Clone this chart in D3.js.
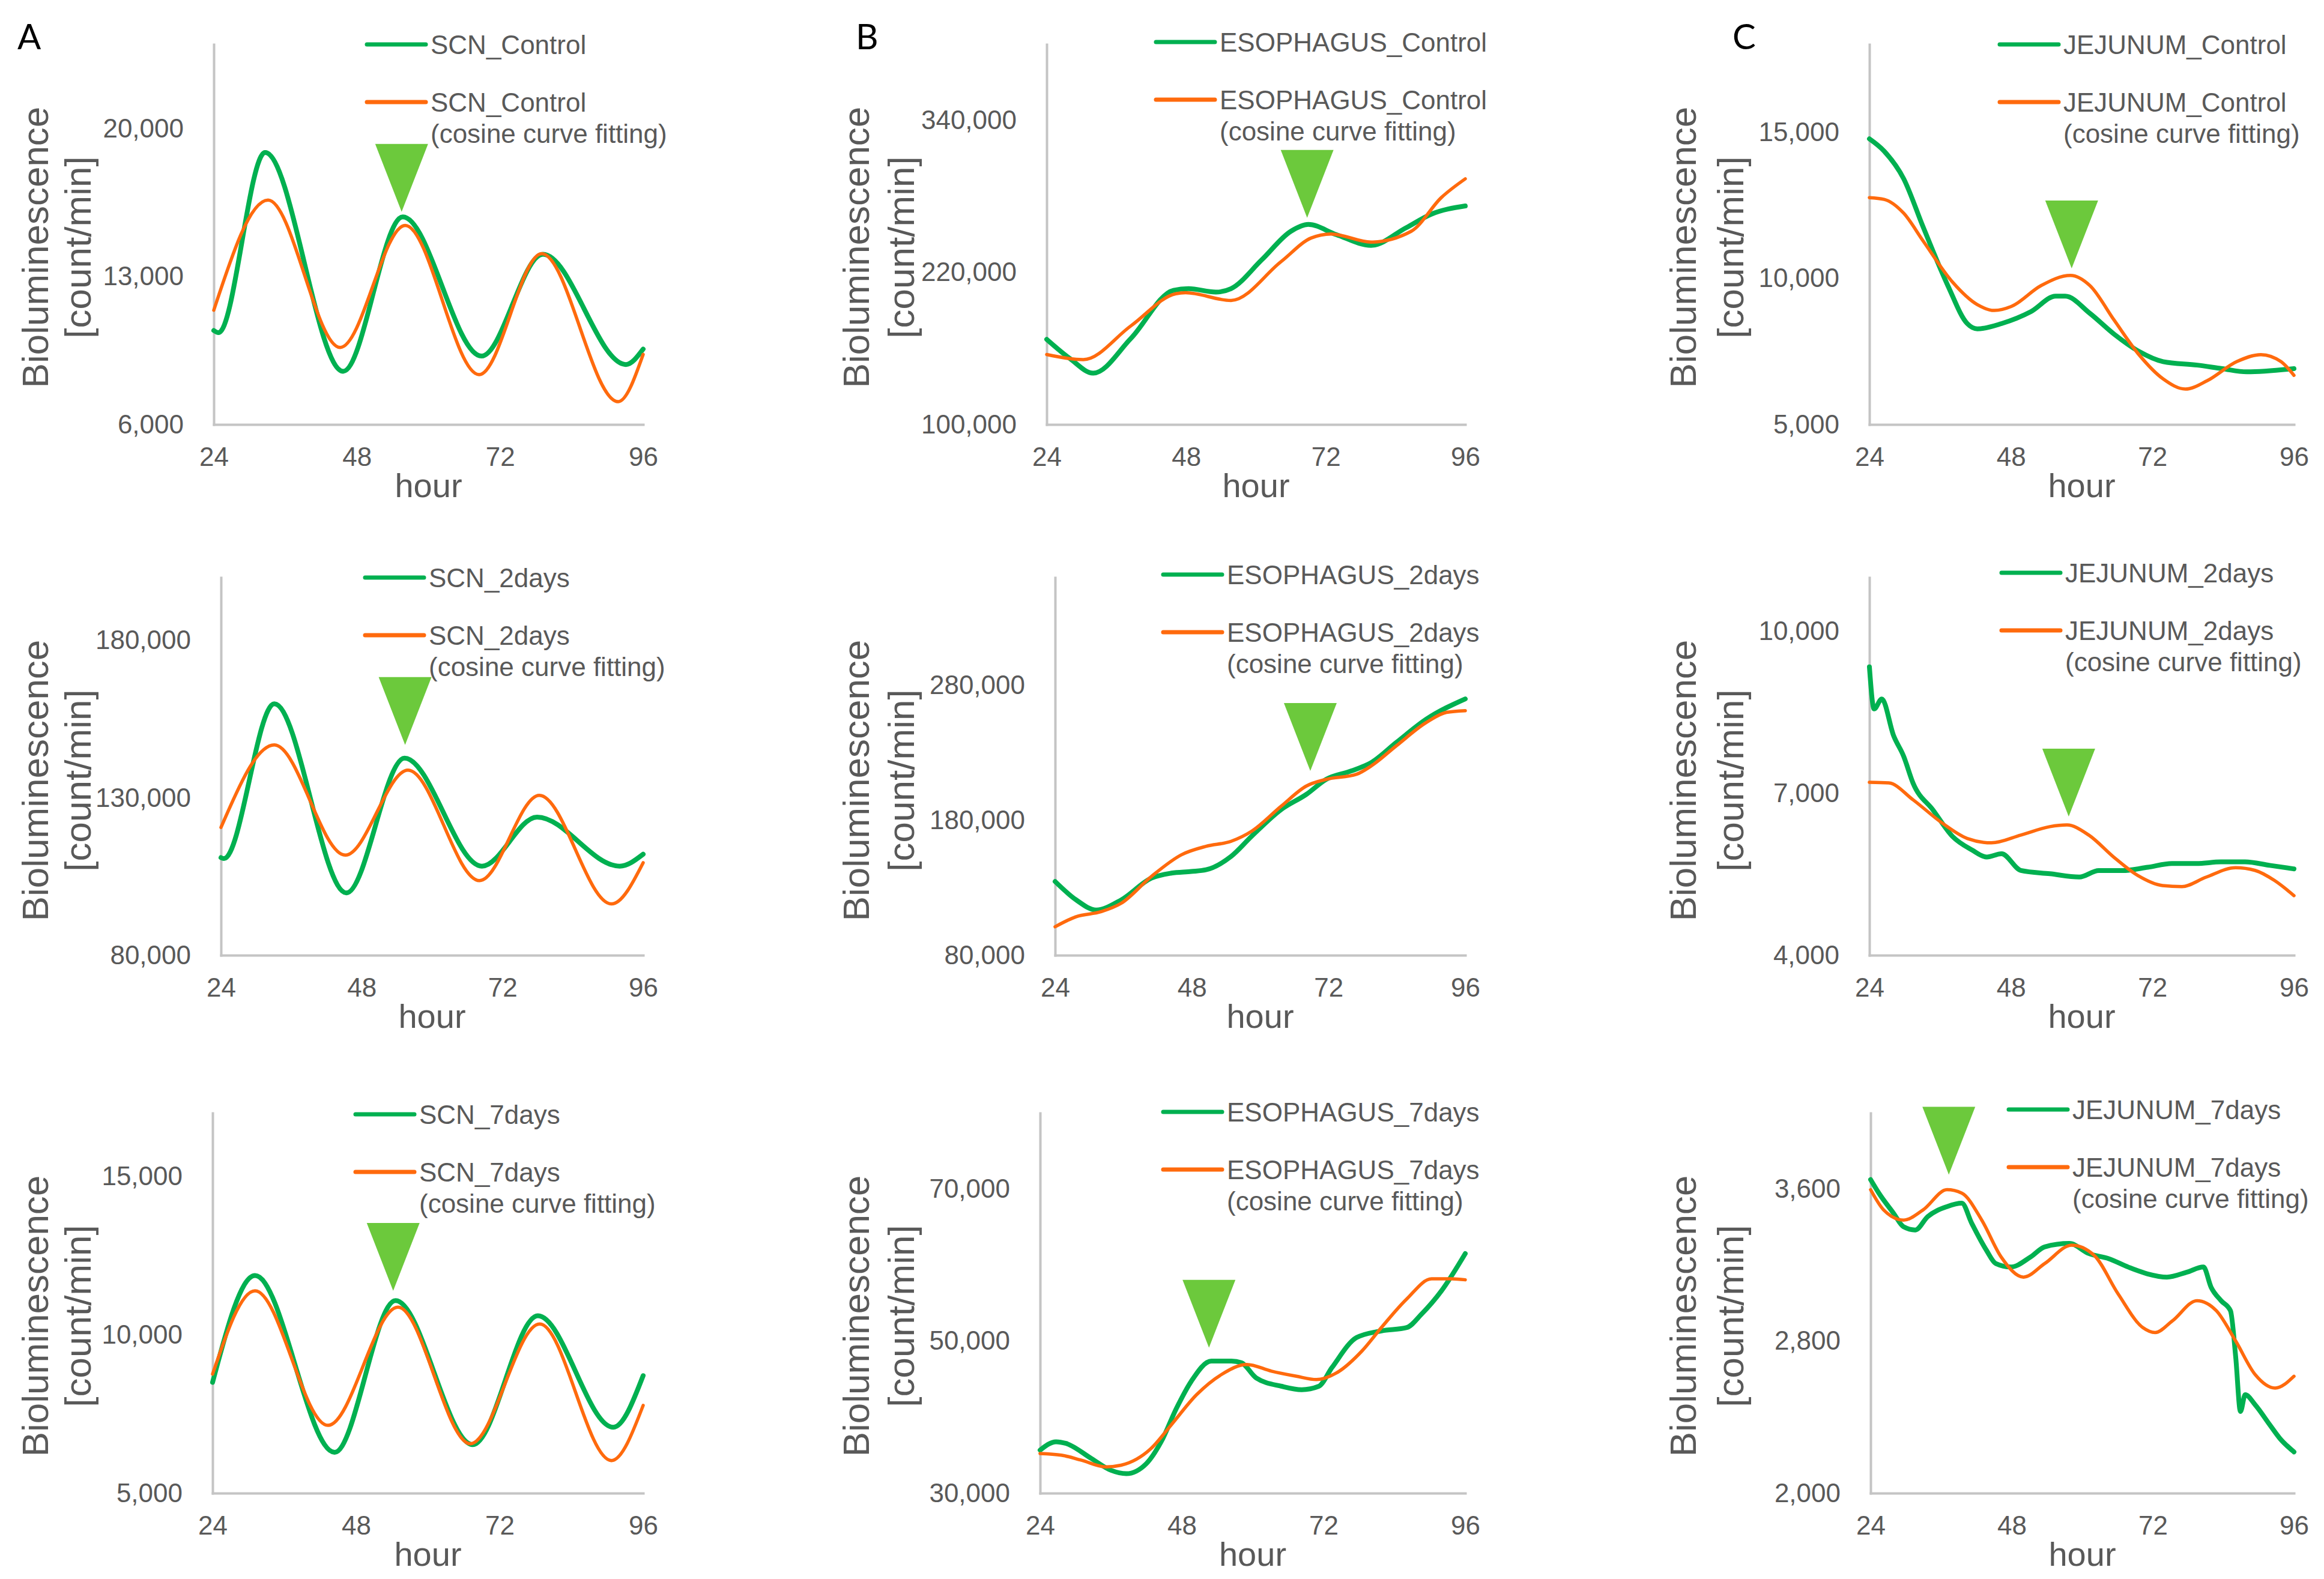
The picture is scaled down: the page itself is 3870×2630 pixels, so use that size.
<!DOCTYPE html>
<html>
<head>
<meta charset="utf-8">
<script src="https://cdn.jsdelivr.net/npm/d3@7"></script>
<style>
  body { margin: 0; background: #fff; }
  text { font-family: "Liberation Sans", Arial, sans-serif; fill: #595959; }
</style>
</head>
<body>
<svg id="fig" width="3870" height="2630"></svg>
<script>

// ---------------- data (hour, count/min) ----------------
var xTicks = [24, 48, 72, 96];

var panelNames = ["SCN_Control", "ESOPHAGUS_Control", "JEJUNUM_Control",
                  "SCN_2days", "ESOPHAGUS_2days", "JEJUNUM_2days",
                  "SCN_7days", "ESOPHAGUS_7days", "JEJUNUM_7days"];

var yDomains = [[6000, 24000], [100000, 400000], [5000, 18000],
                [80000, 200000], [80000, 360000], [4000, 11000],
                [5000, 17000], [30000, 80000], [2000, 4000]];

var yTickValues = [[6000, 13000, 20000], [100000, 220000, 340000], [5000, 10000, 15000],
                   [80000, 130000, 180000], [80000, 180000, 280000], [4000, 7000, 10000],
                   [5000, 10000, 15000], [30000, 50000, 70000], [2000, 2800, 3600]];

// green arrowheads: peak hour and level
var peakHour  = [55.5, 68.8, 58.3, 55.4, 68.8, 57.8, 54.2, 52.6, 37.3];
var peakValue = [16070, 263200, 10340, 146840, 216620, 6570, 11390, 49140, 3676];

var scnControl = [[24,10450],[24.8,10350],[32.6,18880],[45.7,8520],[55.7,15830],[68.9,9240],[79.2,14060],[93.1,8840],[96,9570]];
var scnControlFit = [[24,11410],[33.1,16630],[45.2,9650],[56.1,15430],[68.5,8360],[79.0,14090],[91.8,7080],[96,9320]];

var esoControl = [[24,167200],[28,152000],[32,140500],[38.5,168000],[45.8,205900],[48.4,207200],[53.1,204500],[55.7,207200],[61,230000],[66,252500],[69,257900],[73.8,249900],[79.8,241400],[85.8,255200],[90.1,265900],[96,272500]];
var esoControlFit = [[24,155200],[30.3,151200],[38.5,177900],[46.2,203200],[47.9,204000],[55.7,197900],[64.3,228500],[69.5,247200],[72.9,250400],[79.8,244000],[86.7,252500],[91.9,279200],[96,293900]];

var jejControl = [[24,14770],[26.5,14350],[29.8,13410],[33.1,11760],[37.3,9750],[40.6,8450],[42.3,8270],[46.4,8450],[51.4,8860],[55.6,9390],[57.2,9390],[61.4,8800],[65.5,8090],[69.7,7500],[73.8,7150],[79.6,7030],[83.8,6910],[88,6800],[96,6910]];
var jejControlFit = [[24,12760],[26.5,12700],[29.8,12230],[33.1,11280],[38.1,9870],[42.3,9100],[45.2,8900],[48.1,9040],[53.1,9750],[58.1,10100],[61.4,9750],[65.5,8570],[69.7,7390],[73.8,6560],[77.6,6210],[81.3,6500],[86.3,7150],[90.4,7390],[93.8,7150],[96,6680]];

var scn2d = [[24,111000],[24.5,110700],[33.1,159900],[45.4,99800],[55.3,142600],[68.5,108300],[77.9,123900],[92,108300],[96,112100]];
var scn2dFit = [[24,120600],[33.1,146800],[45.2,111800],[55.9,138800],[68.1,103700],[78.3,130800],[90.6,96300],[96,109400]];

var eso2d = [[24,134650],[27.7,120990],[31.2,113530],[35.6,120990],[40.9,137130],[44.4,140860],[47.9,142100],[50.5,143340],[54.9,153280],[58.5,168180],[63.7,188050],[68.1,199230],[71.6,210410],[76,216620],[79.5,222830],[83.9,237730],[89.2,255120],[96,270030]];
var eso2dFit = [[24,101110],[27.7,108570],[32.1,112290],[35.6,118500],[40.9,138370],[46.2,154520],[50.5,160730],[54.9,164460],[58.5,171910],[63.7,190540],[68.1,205440],[71.6,210410],[76.9,214140],[79.5,220350],[83.9,235250],[89.2,252640],[92.7,260090],[96,261330]];

var jej2d = [[24,9345],[24.8,8565],[26.1,8750],[28.1,8070],[29.8,7690],[31.4,7190],[34.8,6690],[38.1,6200],[41.4,5950],[43.9,5820],[46.4,5880],[49.7,5570],[54.6,5510],[59.6,5450],[62.9,5570],[67,5570],[71.2,5630],[75.3,5700],[79.5,5700],[83.6,5730],[87.7,5730],[91.9,5665],[96,5600]];
var jej2dFit = [[24,7206],[27.3,7193],[31.4,6881],[36.4,6445],[40.6,6164],[44.7,6083],[49.7,6227],[54.6,6383],[57.5,6414],[61.2,6227],[65.4,5821],[69.5,5478],[73.7,5291],[77,5272],[81.1,5447],[86.1,5622],[89.4,5572],[92.7,5385],[96,5104]];

var scn7d = [[24,8500],[31.1,11870],[44.4,6290],[54.6,11080],[67.5,6530],[78.4,10600],[91,7080],[96,8710]];
var scn7dFit = [[24,8760],[31.1,11390],[43.3,7140],[55,10870],[67.1,6560],[78.7,10340],[90.7,6030],[96,7770]];

var eso7d = [[24,35660],[26.7,36760],[28.4,36540],[32.7,34550],[36,33010],[38.6,32560],[42,33890],[44.5,36760],[47.1,41180],[49.6,44720],[53,47370],[56.4,47370],[58.1,47150],[60.6,45160],[64.9,44060],[68.3,43610],[71.2,44060],[73.4,46490],[77.6,50470],[81.8,51350],[86.1,51790],[88.6,53560],[92,56650],[96,61520]];
var eso7dFit = [[24,35220],[27.6,35000],[31,34330],[35.2,33450],[37.7,33670],[42.8,35880],[46.2,38970],[50.5,42950],[54.7,45600],[59,46930],[63.2,46050],[67.4,45380],[70.8,44940],[74.2,45820],[78.5,48700],[81.8,51790],[86.1,55550],[90.3,58200],[93.7,58200],[96,58070]];

var jej7d = [[24,3650],[25.4,3579],[27.9,3473],[29.6,3402],[31.6,3385],[33.7,3455],[37,3508],[39.5,3526],[41.2,3420],[43.7,3278],[45.3,3208],[47.8,3190],[51.2,3243],[53.6,3296],[57.8,3314],[61.1,3261],[64.5,3234],[67.8,3190],[71.1,3154],[74.4,3137],[77.8,3163],[80.6,3190],[81.9,3084],[83.6,3013],[85.2,2960],[86.1,2713],[86.9,2430],[87.7,2518],[89.4,2465],[91.9,2359],[93.6,2288],[96,2217]];
var jej7dFit = [[24,3597],[26.2,3491],[29.6,3437],[32.9,3490],[37,3597],[39.5,3579],[42.9,3437],[46.2,3243],[50,3137],[53.6,3208],[58.2,3305],[62,3252],[66.1,3048],[70.3,2871],[72.4,2845],[75.3,2906],[79.5,3013],[82.8,2960],[86.1,2800],[89.4,2624],[92.8,2553],[96,2615]];

var measured = [scnControl, esoControl, jejControl, scn2d, eso2d, jej2d, scn7d, eso7d, jej7d];
var fitted   = [scnControlFit, esoControlFit, jejControlFit, scn2dFit, eso2dFit, jej2dFit, scn7dFit, eso7dFit, jej7dFit];

// ---------------- layout ----------------
var rows = [{top: 74, bottom: 707}, {top: 962, bottom: 1591}, {top: 1854, bottom: 2487}];
var axisLeftX = [356, 1743, 3113, 368, 1757, 3113, 354, 1732, 3115];
var axisRightX = [1071, 2440, 3820];
var titleX = [[58, 129], [1425, 1500], [2802, 2881]];
var legendPos = [[611, 74], [1925, 70], [3330, 74],
                 [608, 962], [1937, 957], [3333, 954],
                 [592, 1856], [1937, 1852], [3345, 1848]];
var letters = [["A", 29], ["B", 1425], ["C", 2885]];

var GREEN = "#00B050", ORANGE = "#FF6A0D", ARROW = "#6CC93C", AXIS = "#C4C4C4";

var svg = d3.select("#fig");

letters.forEach(function(l) {
  svg.append("text")
    .attr("x", l[1]).attr("y", 82)
    .style("font-family", "Lato, 'Open Sans', sans-serif")
    .style("fill", "#000")
    .attr("font-size", 58)
    .text(l[0]);
});

panelNames.forEach(function(name, i) {
  var col = i % 3, row = Math.floor(i / 3);
  var top = rows[row].top, bottom = rows[row].bottom;
  var x0 = axisLeftX[i], x1 = axisRightX[col];

  var x = d3.scaleLinear().domain([24, 96]).range([x0, x1]);
  var y = d3.scaleLinear().domain(yDomains[i]).range([bottom, top]);

  var g = svg.append("g");

  // axes
  var ya = g.append("g")
    .attr("transform", "translate(" + x0 + ",0)")
    .call(d3.axisLeft(y).tickValues(yTickValues[i]).tickSize(0).tickSizeOuter(0)
          .tickPadding(50).tickFormat(d3.format(",")));
  var xa = g.append("g")
    .attr("transform", "translate(0," + bottom + ")")
    .call(d3.axisBottom(x).tickValues(xTicks).tickSize(0).tickSizeOuter(0).tickPadding(38));

  [ya, xa].forEach(function(a) {
    a.attr("font-family", null).attr("font-size", 44);
    a.select(".domain").attr("stroke", AXIS).attr("stroke-width", 4).attr("stroke-linecap", "square");
    a.selectAll("text").style("fill", "#595959");
  });

  // axis titles
  g.append("text")
    .attr("x", (x0 + x1) / 2).attr("y", bottom + 101)
    .attr("text-anchor", "middle").attr("dominant-baseline", "central")
    .attr("font-size", 56)
    .text("hour");

  var cy = top + 338;
  ["Bioluminescence", "[count/min]"].forEach(function(t, k) {
    g.append("text")
      .attr("transform", "translate(" + titleX[col][k] + "," + cy + ") rotate(-90)")
      .attr("text-anchor", "middle").attr("dominant-baseline", "central")
      .attr("font-size", 62)
      .text(t);
  });

  // series
  var line = d3.line()
    .x(function(d) { return x(d[0]); })
    .y(function(d) { return y(d[1]); })
    .curve(d3.curveMonotoneX);

  g.append("path").datum(measured[i])
    .attr("d", line).attr("fill", "none")
    .attr("stroke", GREEN).attr("stroke-width", 8)
    .attr("stroke-linejoin", "round").attr("stroke-linecap", "round");

  g.append("path").datum(fitted[i])
    .attr("d", line).attr("fill", "none")
    .attr("stroke", ORANGE).attr("stroke-width", 5.5)
    .attr("stroke-linejoin", "round").attr("stroke-linecap", "round");

  // arrowhead marking the peak
  var ax = x(peakHour[i]), ay = y(peakValue[i]);
  g.append("path")
    .attr("d", "M" + (ax - 44) + "," + (ay - 113) + "L" + (ax + 44) + "," + (ay - 113) + "L" + ax + "," + ay + "Z")
    .attr("fill", ARROW);

  // legend
  var lx = legendPos[i][0], ly = legendPos[i][1];
  g.append("line").attr("x1", lx).attr("x2", lx + 98).attr("y1", ly).attr("y2", ly)
    .attr("stroke", GREEN).attr("stroke-width", 7).attr("stroke-linecap", "round");
  g.append("text").attr("x", lx + 106).attr("y", ly)
    .attr("dominant-baseline", "central").attr("font-size", 44).text(name);

  g.append("line").attr("x1", lx).attr("x2", lx + 98).attr("y1", ly + 96).attr("y2", ly + 96)
    .attr("stroke", ORANGE).attr("stroke-width", 7).attr("stroke-linecap", "round");
  g.append("text").attr("x", lx + 106).attr("y", ly + 96)
    .attr("dominant-baseline", "central").attr("font-size", 44).text(name);
  g.append("text").attr("x", lx + 106).attr("y", ly + 148)
    .attr("dominant-baseline", "central").attr("font-size", 44).text("(cosine curve fitting)");
});

</script>
</body>
</html>
